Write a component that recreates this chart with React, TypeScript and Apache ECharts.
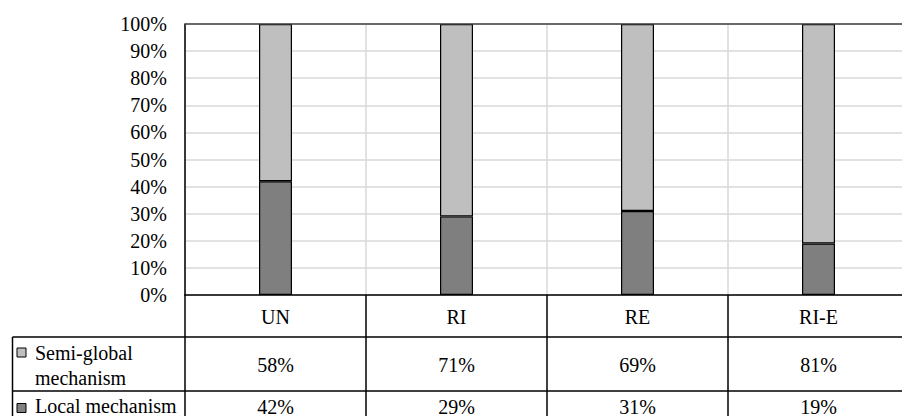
import React, { useEffect, useRef } from "react";
import * as echarts from "echarts";

// Share of each mechanism per configuration (percent)
const categories = ["UN", "RI", "RE", "RI-E"];
const semiGlobal = [58, 71, 69, 81];
const local = [42, 29, 31, 19];
const seriesNames = ["Semi-global mechanism", "Local mechanism"];
const seriesColors = ["#bfbfbf", "#7f7f7f"];

const FONT = "Liberation Serif";
const FS = 20;

// Plot area and data-table geometry
const G_LEFT = 185;
const G_TOP = 24;
const G_W = 724;
const G_H = 271;
const G_BOTTOM = G_TOP + G_H;
const ROW1 = 42;
const ROW2 = 54;
const TABLE_LEFT = 12.5;

export default function App() {
  const ref = useRef<HTMLDivElement>(null);

  useEffect(() => {
    if (!ref.current) return;
    const chart = echarts.init(ref.current, undefined, { renderer: "svg" });
    const right = G_LEFT + G_W;
    const yRow2 = G_BOTTOM + ROW1;
    const yRow3 = yRow2 + ROW2;
    const txt = { fontSize: FS, fontFamily: FONT, color: "#000" };

    const option: any = {
      animation: false,
      backgroundColor: "#fff",
      textStyle: { fontFamily: FONT },
      grid: {
        left: G_LEFT,
        top: G_TOP,
        width: G_W,
        height: G_H,
        containLabel: false,
        outerBoundsMode: "none",
      },
      xAxis: {
        type: "category",
        data: categories,
        axisLine: { show: true, lineStyle: { color: "#000", width: 1.5 } },
        axisTick: {
          show: true,
          interval: 0,
          length: 130,
          lineStyle: { color: "#000", width: 1.5 },
        },
        splitLine: { show: true, interval: 0, lineStyle: { color: "#d9d9d9", width: 1.5 } },
        axisLabel: {
          interval: 0,
          margin: 1,
          ...txt,
          formatter: (value: string, idx: number) =>
            `{c|${value}}\n{v|${semiGlobal[idx]}%}\n{w|${local[idx]}%}`,
          rich: {
            c: { ...txt, lineHeight: ROW1 },
            v: { ...txt, lineHeight: ROW2 },
            w: { ...txt, lineHeight: 29 },
          },
        },
      },
      yAxis: {
        type: "value",
        min: 0,
        max: 100,
        interval: 10,
        axisLine: { show: true, lineStyle: { color: "#000", width: 1.5 } },
        axisTick: { show: false },
        axisLabel: { formatter: "{value}%", ...txt, margin: 18 },
        splitLine: { show: true, lineStyle: { color: "#d9d9d9", width: 1.5 } },
      },
      series: [
        {
          name: seriesNames[1],
          type: "bar",
          stack: "total",
          data: local,
          barWidth: 33,
          itemStyle: { color: seriesColors[1], borderColor: "#000", borderWidth: 1.2 },
        },
        {
          name: seriesNames[0],
          type: "bar",
          stack: "total",
          data: semiGlobal,
          barWidth: 33,
          itemStyle: { color: seriesColors[0], borderColor: "#000", borderWidth: 1.2 },
        },
      ],
      graphic: [
        // plot area top border
        {
          type: "line",
          shape: { x1: G_LEFT, y1: G_TOP, x2: right, y2: G_TOP },
          style: { stroke: "#404040", lineWidth: 1.5 },
          z: 10,
        },
        // data table rules
        {
          type: "line",
          shape: { x1: TABLE_LEFT, y1: yRow2, x2: right, y2: yRow2 },
          style: { stroke: "#000", lineWidth: 1.5 },
        },
        {
          type: "line",
          shape: { x1: TABLE_LEFT, y1: yRow3, x2: right, y2: yRow3 },
          style: { stroke: "#000", lineWidth: 1.5 },
        },
        {
          type: "line",
          shape: { x1: TABLE_LEFT, y1: yRow2, x2: TABLE_LEFT, y2: 430 },
          style: { stroke: "#000", lineWidth: 1.5 },
        },
        // legend keys and names in the first column
        {
          type: "rect",
          shape: { x: 17, y: 348, width: 9, height: 9 },
          style: { fill: seriesColors[0], stroke: "#000", lineWidth: 1 },
        },
        {
          type: "text",
          x: 35,
          y: 340,
          style: {
            text: seriesNames[0],
            width: 150,
            overflow: "break",
            lineHeight: 25.5,
            fontSize: FS,
            fontFamily: FONT,
            fill: "#000",
            verticalAlign: "top",
          },
        },
        {
          type: "rect",
          shape: { x: 17, y: 403.5, width: 9, height: 9 },
          style: { fill: seriesColors[1], stroke: "#000", lineWidth: 1 },
        },
        {
          type: "text",
          x: 35,
          y: 406,
          style: {
            text: seriesNames[1],
            fontSize: FS,
            fontFamily: FONT,
            fill: "#000",
            verticalAlign: "middle",
          },
        },
      ],
    };

    chart.setOption(option);
    return () => chart.dispose();
  }, []);

  return (
    <div
      ref={ref}
      style={{ position: "fixed", left: 0, top: 0, width: 902, height: 416, background: "#fff" }}
    />
  );
}
